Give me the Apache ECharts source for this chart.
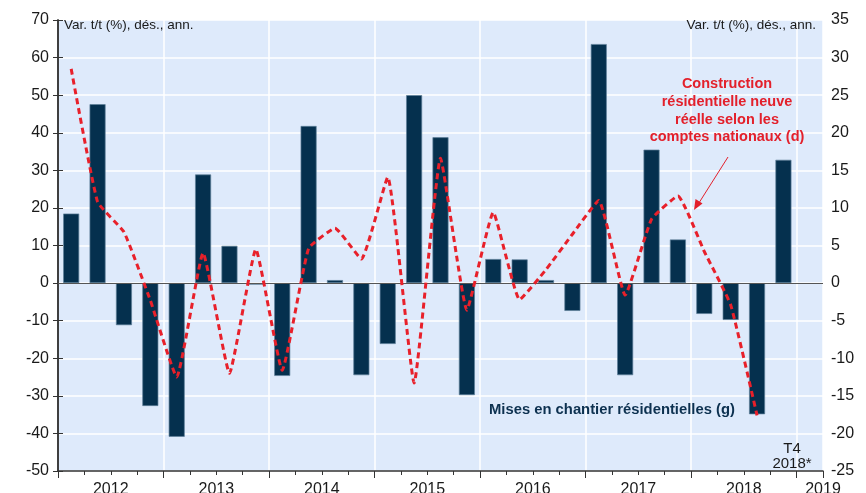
<!DOCTYPE html>
<html>
<head>
<meta charset="utf-8">
<script src="https://cdn.jsdelivr.net/npm/echarts@6/dist/echarts.min.js"></script>
<style>
html,body{margin:0;padding:0;background:#fff;}
#chart{width:866px;height:493px;}
</style>
</head>
<body>
<div id="chart"></div>
<script>
// ---- data ----
const years = ['2012','2013','2014','2015','2016','2017','2018','2019'];
const quarters = ['T1','T2','T3','T4'];
// Mises en chantier résidentielles (g), quarterly 2012T1..2019T1
const starts = [
  18.5, 47.6, -11.2, -32.7,
  -40.9, 28.9, 9.9, -0.4,
  -24.7, 41.8, 0.8, -24.5,
  -16.2, 50.0, 38.8, -29.8,
  6.4, 6.3, 0.8, -7.4,
  63.6, -24.5, 35.5, 11.6,
  -8.2, -9.8, -34.9, 32.8,
  null
];
// Construction résidentielle neuve réelle (d)
const construction = [
  28.5, 10.8, 6.8, -2.3,
  -12.5, 4.0, -12.0, 4.5,
  -11.6, 4.6, 7.3, 3.2,
  14.1, -13.3, 16.6, -3.6,
  9.4, -2.2, 1.8, 6.5,
  11.0, -1.6, 8.5, 11.6,
  4.2, -2.9, -17.6, null,
  null
];
const leftTicks = {min: -50, max: 70, interval: 10};
const rightTicks = {min: -25, max: 35, interval: 5};

const categories = [];
years.forEach((y, i) => {
  if (i < years.length - 1) quarters.forEach(q => categories.push(y + q));
});
categories.push(years[years.length - 1] + 'T1');
const nQ = categories.length;

const axisColor = '#333333';
const txt = '#1a1a1a';
const font = 'Arial, "Liberation Sans", sans-serif';

const chart = echarts.init(document.getElementById('chart'), null, {renderer: 'canvas'});
chart.setOption({
  animation: false,
  grid: {
    left: 58, right: 43, top: 20, bottom: 22,
    show: true, backgroundColor: '#deeafb', borderWidth: 0,
    outerBoundsMode: 'none'
  },
  xAxis: [
    {
      type: 'category', data: categories, position: 'bottom', boundaryGap: true,
      axisLine: {show: true, onZero: false, lineStyle: {color: axisColor, width: 1.5}},
      axisTick: {show: true, interval: 0, length: 4, lineStyle: {color: axisColor}},
      axisLabel: {show: false},
      splitLine: {show: false}
    },
    {
      type: 'value', min: 0, max: nQ, interval: 4, position: 'bottom',
      axisLine: {show: false, onZero: false},
      axisTick: {show: true, length: 7, lineStyle: {color: axisColor}},
      axisLabel: {show: false},
      splitLine: {show: true, lineStyle: {color: '#ffffff', width: 1.5}}
    },
    {
      type: 'value', min: 0, max: nQ, interval: 2, position: 'bottom',
      axisLine: {show: false, onZero: false},
      axisTick: {show: false},
      splitLine: {show: false},
      axisLabel: {
        show: true, margin: 11, fontSize: 16, color: txt, fontFamily: font,
        showMinLabel: true, showMaxLabel: true, hideOverlap: false,
        formatter: function (v) {
          if (v === nQ) return years[years.length - 1];
          if (v % 4 === 2) return years[(v - 2) / 4];
          return '';
        }
      }
    }
  ],
  yAxis: [
    {
      type: 'value', position: 'left', min: leftTicks.min, max: leftTicks.max, interval: leftTicks.interval,
      axisLine: {show: true, lineStyle: {color: axisColor, width: 1.5}},
      axisTick: {show: true, length: 5, lineStyle: {color: axisColor}},
      axisLabel: {fontSize: 16, color: txt, margin: 9, fontFamily: font},
      splitLine: {show: true, lineStyle: {color: '#ffffff', width: 1.5}}
    },
    {
      type: 'value', position: 'right', min: rightTicks.min, max: rightTicks.max, interval: rightTicks.interval,
      axisLine: {show: true, lineStyle: {color: axisColor, width: 1.5}},
      axisTick: {show: true, length: 5, lineStyle: {color: axisColor}},
      axisLabel: {fontSize: 16, color: txt, margin: 8, fontFamily: font},
      splitLine: {show: false}
    }
  ],
  series: [
    {
      name: 'Mises en chantier résidentielles (g)',
      type: 'bar', xAxisIndex: 0, yAxisIndex: 0,
      data: starts, barWidth: 16,
      itemStyle: {color: '#05304e', borderColor: '#5f7f99', borderWidth: 0.7},
      markLine: {
        silent: true, symbol: 'none', label: {show: false},
        lineStyle: {color: '#555555', width: 1.2, type: 'solid'},
        data: [{yAxis: 0}]
      },
      z: 2
    },
    {
      name: 'Construction résidentielle neuve réelle selon les comptes nationaux (d)',
      type: 'line', xAxisIndex: 0, yAxisIndex: 1,
      data: construction, smooth: 0.12, symbol: 'none',
      lineStyle: {color: '#e8202a', width: 3, type: [6, 4], cap: 'butt'},
      z: 5
    }
  ],
  graphic: [
    {type: 'text', z: 100, left: 64, top: 18, style: {text: 'Var. t/t (%), dés., ann.', font: '13.5px ' + font, fill: txt}},
    {type: 'text', z: 100, right: 50, top: 18, style: {text: 'Var. t/t (%), dés., ann.', font: '13.5px ' + font, fill: txt, textAlign: 'right'}},
    {type: 'text', z: 100, x: 727, y: 75, style: {
      text: 'Construction\nrésidentielle neuve\nréelle selon les\ncomptes nationaux (d)',
      font: 'bold 14.5px ' + font, fill: '#e3202b', textAlign: 'center', lineHeight: 17.8}},
    {type: 'line', z: 100, shape: {x1: 728, y1: 157, x2: 697, y2: 206}, style: {stroke: '#e3202b', lineWidth: 1}},
    {type: 'polygon', z: 100, shape: {points: [[694, 210], [695.5, 199], [702.5, 203.5]]}, style: {fill: '#e3202b'}},
    {type: 'text', z: 100, x: 489, y: 402, style: {text: 'Mises en chantier résidentielles (g)', font: 'bold 14.8px ' + font, fill: '#0d3150'}},
    {type: 'text', z: 100, x: 792, y: 441, style: {text: 'T4\n2018*', font: '15px ' + font, fill: txt, textAlign: 'center', lineHeight: 15}}
  ]
});
</script>
</body>
</html>
